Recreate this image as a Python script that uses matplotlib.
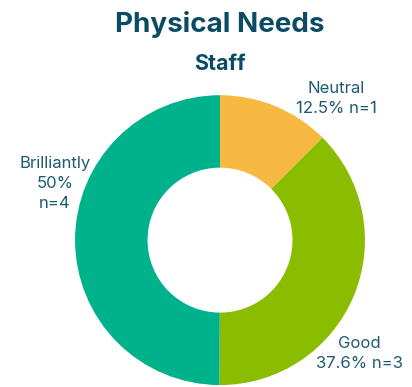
import matplotlib.pyplot as plt

# response counts for the staff group
categories = ['Neutral', 'Good', 'Brilliantly']
percents = [12.5, 37.6, 50.0]
counts = [1, 3, 4]
colors = ['#F7B941', '#8ABD00', '#00B28B']

TEXT = '#1E5A72'
TITLE = '#0B4B63'

plt.rcParams['font.family'] = ['Inter', 'DejaVu Sans']

fig = plt.figure(figsize=(4.12, 3.87), dpi=100)
ax = fig.add_axes([0.182, 0.005, 0.704, 0.749])

# clockwise from 12 o'clock, ring width half the radius
ax.pie(percents, colors=colors, startangle=90, counterclock=False,
       radius=1.0, wedgeprops=dict(width=0.5, linewidth=0))
ax.set_xlim(-1, 1)
ax.set_ylim(-1, 1)
ax.set_aspect('equal')
ax.axis('off')

# slice labels placed outside the ring
label_pos = {
    'Neutral': (0.80, 0.98, 'center'),
    'Good': (0.96, -0.78, 'center'),
    'Brilliantly': (-1.14, 0.39, 'center'),
}
for cat, pct, n in zip(categories, percents, counts):
    x, y, ha = label_pos[cat]
    pct_txt = f'{pct:g}%'
    if cat == 'Brilliantly':
        txt = f'{cat}\n{pct_txt}\nn={n}'
    else:
        txt = f'{cat}\n{pct_txt} n={n}'
    ax.text(x, y, txt, ha=ha, va='center', fontsize=12, color=TEXT,
            linespacing=1.4, clip_on=False)

fig.text(0.534, 0.937, 'Physical Needs', ha='center', va='center',
         fontsize=20, fontweight='bold', color=TITLE)
fig.text(0.534, 0.835, 'Staff', ha='center', va='center',
         fontsize=15.5, fontweight='bold', color=TITLE)

fig.savefig('out.png', dpi=100, facecolor='white')
